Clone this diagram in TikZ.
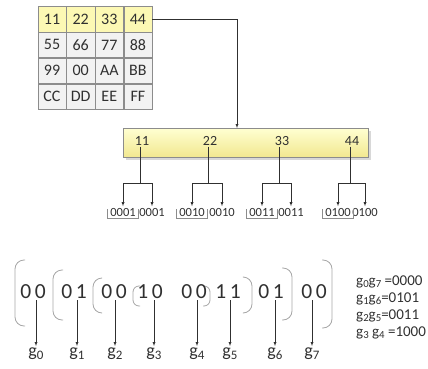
\documentclass[tikz,border=0pt]{standalone}
\usepackage{fontspec}
\setmainfont{Carlito}
\usetikzlibrary{arrows,positioning,shadows}
\definecolor{gridgray}{HTML}{8C8C8C}
\definecolor{cellgray}{HTML}{F2F2F2}
\definecolor{celly}{HTML}{FCF8B4}
\definecolor{bartop}{HTML}{FFFFD2}
\definecolor{barbot}{HTML}{F2E890}
\definecolor{parengray}{HTML}{A6A6A6}
\definecolor{ink}{HTML}{303030}
\newcommand{\gsub}[1]{g\raisebox{-0.3ex}{\scalebox{0.72}{#1}}}
\tikzset{%
	cell/.style     = {draw=gridgray, fill=cellgray, rectangle, minimum width=28.25pt, minimum height=25.5pt, inner sep=0pt, text=ink, font=\fontsize{16}{16}\selectfont},
	topcell/.style  = {cell, fill=celly}, % first row
	bar/.style      = {draw=gridgray, rectangle, top color=bartop, bottom color=barbot, minimum width=245pt, minimum height=29pt, drop shadow={shadow xshift=3pt, shadow yshift=-3pt, fill=black!30}},
	byte/.style     = {text=ink, font=\fontsize{14}{14}\selectfont, inner sep=1pt},
	bits/.style     = {text=ink, font=\fontsize{12.5}{12.5}\selectfont, inner xsep=2.5pt, inner ysep=1.5pt},
	pair/.style     = {text=ink, font=\fontsize{21.5}{21.5}\selectfont, inner sep=1pt},
	gene/.style     = {text=ink, font=\fontsize{18}{18}\selectfont, inner sep=2pt, anchor=north},
	eqn/.style      = {text=ink, font=\fontsize{15}{15}\selectfont, inner sep=0pt, anchor=west},
	paren/.style    = {draw=parengray, line width=0.8pt, rounded corners=9pt},
	bracket/.style  = {draw=gridgray, line width=0.6pt},
	arrow/.style    = {draw=ink, -latex},
}

\begin{document}
\begin{tikzpicture}[x=1pt, y=-1pt]
	\useasboundingbox (0,0) rectangle (428,369);
	% table
	\node[topcell] (c11) at (52,19) {11};
	\node[topcell,right=0pt of c11] (c12) {22};
	\node[topcell,right=0pt of c12] (c13) {33};
	\node[topcell,right=0pt of c13] (c14) {44};
	\node[cell,below=0pt of c11] (c21) {55};
	\node[cell,right=0pt of c21] (c22) {66};
	\node[cell,right=0pt of c22] (c23) {77};
	\node[cell,right=0pt of c23] (c24) {88};
	\node[cell,below=0pt of c21] (c31) {99};
	\node[cell,right=0pt of c31] (c32) {00};
	\node[cell,right=0pt of c32] (c33) {AA};
	\node[cell,right=0pt of c33] (c34) {BB};
	\node[cell,below=0pt of c31] (c41) {CC};
	\node[cell,right=0pt of c41] (c42) {DD};
	\node[cell,right=0pt of c42] (c43) {EE};
	\node[cell,right=0pt of c43] (c44) {FF};
	
	% bar of the first row
	\node[bar] (row) at (245.5,142.5) {};
	\coordinate (drop) at (237,128);
	\draw[arrow] (c14.east) -| (drop);
	\node[byte] (b1) at (142,141) {11};
	\node[byte] (b2) at (210,141) {22};
	\node[byte] (b3) at (282,141) {33};
	\node[byte] (b4) at (352,141) {44};
	\coordinate (s1) at (140,183);
	\coordinate (s2) at (208,183);
	\coordinate (s3) at (279,183);
	\coordinate (s4) at (350,183);
	\node[bits] (l1) at (123,212) {0001};
	\node[bits] (r1) at (152,212) {0001};
	\node[bits] (l2) at (192,212) {0010};
	\node[bits] (r2) at (222,212) {0010};
	\node[bits] (l3) at (262,212) {0011};
	\node[bits] (r3) at (291,212) {0011};
	\node[bits] (l4) at (338,212) {0100};
	\node[bits] (r4) at (365,212) {0100};
	\draw[draw=ink] (b1.south -| s1) -- (s1);
	\draw[draw=ink] (b2.south -| s2) -- (s2);
	\draw[draw=ink] (b3.south -| s3) -- (s3);
	\draw[draw=ink] (b4.south -| s4) -- (s4);
	\draw[arrow] (s1) -| (l1.north);
	\draw[arrow] (s1) -| (r1.north);
	\draw[arrow] (s2) -| (l2.north);
	\draw[arrow] (s2) -| (r2.north);
	\draw[arrow] (s3) -| (l3.north);
	\draw[arrow] (s3) -| (r3.north);
	\draw[arrow] (s4) -| (l4.north);
	\draw[arrow] (s4) -| (r4.north);
	\draw[bracket] ([yshift=-3pt]l1.north west) -- (l1.south west) -- (l1.south east) -- ([yshift=-3pt]l1.north east);
	\draw[bracket] ([yshift=-3pt]l2.north west) -- (l2.south west) -- (l2.south east) -- ([yshift=-3pt]l2.north east);
	\draw[bracket] ([yshift=-3pt]l3.north west) -- (l3.south west) -- (l3.south east) -- ([yshift=-3pt]l3.north east);
	\draw[bracket] ([yshift=-3pt]l4.north west) -- (l4.south west) -- (l4.south east) -- ([yshift=-3pt]l4.north east);
	
	% nested pairs
	\draw[paren] (25,260) -- (15,260) -- (15,326) -- (25,326);
	\draw[paren] (63,270) -- (53,270) -- (53,320) -- (63,320);
	\draw[paren] (101,278) -- (93,278) -- (93,313) -- (101,313);
	\draw[paren,rounded corners=6pt] (140,286) -- (133,286) -- (133,306) -- (140,306);
	\draw[paren,rounded corners=6pt] (203,286) -- (210,286) -- (210,306) -- (203,306);
	\draw[paren] (244,277) -- (252,277) -- (252,313) -- (244,313);
	\draw[paren] (282,268) -- (292,268) -- (292,320) -- (282,320);
	\draw[paren] (322,260) -- (332,260) -- (332,328) -- (322,328);
	\node[pair] (p0) at (33,292) {0\,0};
	\node[pair] (p1) at (74,292) {0\,1};
	\node[pair] (p2) at (114,292) {0\,0};
	\node[pair] (p3) at (150,292) {1\,0};
	\node[pair] (p4) at (194,292) {0\,0};
	\node[pair] (p5) at (228,292) {1\,1};
	\node[pair] (p6) at (271,292) {0\,1};
	\node[pair] (p7) at (314,292) {0\,0};
	\node[gene] (g0) at (36,346) {\gsub{0}};
	\node[gene] (g1) at (77,346) {\gsub{1}};
	\node[gene] (g2) at (115,346) {\gsub{2}};
	\node[gene] (g3) at (154,346) {\gsub{3}};
	\node[gene] (g4) at (197,346) {\gsub{4}};
	\node[gene] (g5) at (230,346) {\gsub{5}};
	\node[gene] (g6) at (275,346) {\gsub{6}};
	\node[gene] (g7) at (312,346) {\gsub{7}};
	\draw[arrow] (p0.south -| g0.north) -- (g0.north);
	\draw[arrow] (p1.south -| g1.north) -- (g1.north);
	\draw[arrow] (p2.south -| g2.north) -- (g2.north);
	\draw[arrow] (p3.south -| g3.north) -- (g3.north);
	\draw[arrow] (p4.south -| g4.north) -- (g4.north);
	\draw[arrow] (p5.south -| g5.north) -- (g5.north);
	\draw[arrow] (p6.south -| g6.north) -- (g6.north);
	\draw[arrow] (p7.south -| g7.north) -- (g7.north);
	
	% pairs read off
	\node[eqn] (e1) at (356,282) {\gsub{0}\gsub{7} =0000};
	\node[eqn] (e2) at (356,299) {\gsub{1}\gsub{6}=0101};
	\node[eqn] (e3) at (356,316) {\gsub{2}\gsub{5}=0011};
	\node[eqn] (e4) at (356,333) {\gsub{3} \gsub{4} =1000};
\end{tikzpicture}
\end{document}
